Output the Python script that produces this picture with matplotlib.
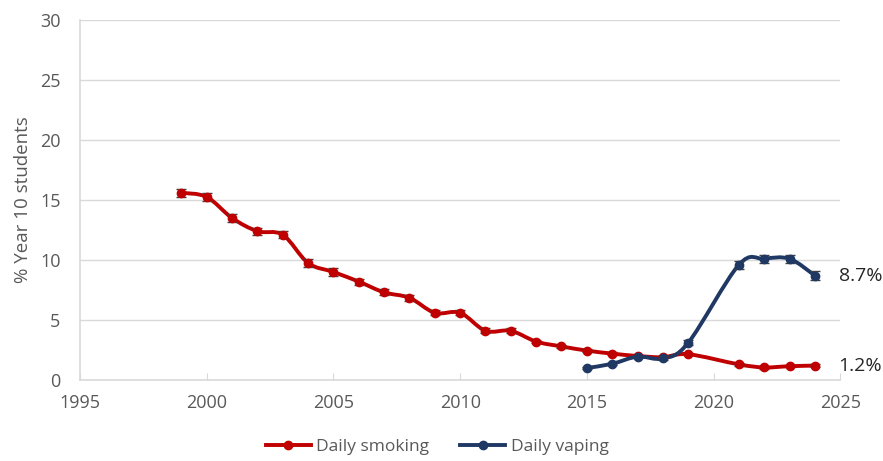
import matplotlib.pyplot as plt
from matplotlib.path import Path
from matplotlib.patches import PathPatch
from matplotlib.lines import Line2D
import numpy as np

plt.rcParams['font.family'] = ['Open Sans', 'DejaVu Sans']

# Data
smoke_years = [1999, 2000, 2001, 2002, 2003, 2004, 2005, 2006, 2007, 2008, 2009, 2010,
               2011, 2012, 2013, 2014, 2015, 2016, 2017, 2018, 2019, 2021, 2022, 2023, 2024]
smoke_vals = [15.6, 15.25, 13.5, 12.4, 12.1, 9.75, 9.0, 8.2, 7.3, 6.85, 5.6, 5.6,
              4.1, 4.1, 3.2, 2.8, 2.45, 2.2, 2.0, 1.9, 2.15, 1.3, 1.05, 1.15, 1.2]
smoke_err = [0.35, 0.35, 0.35, 0.3, 0.3, 0.3, 0.3, 0.25, 0.25, 0.25, 0.2, 0.2,
             0.2, 0.2, 0.15, 0.15, 0.15, 0.1, 0.1, 0.1, 0.1, 0.1, 0.1, 0.1, 0.1]
vape_years = [2015, 2016, 2017, 2018, 2019, 2021, 2022, 2023, 2024]
vape_vals = [1.0, 1.35, 1.95, 1.8, 3.1, 9.6, 10.1, 10.1, 8.7]
vape_err = [0.1, 0.1, 0.15, 0.15, 0.2, 0.35, 0.35, 0.35, 0.4]
end_labels = ['8.7%', '1.2%']

red = '#C00000'
navy = '#1F3864'
grey = '#595959'


def smooth_path(xs, ys, k=6):
    # Excel style smoothed line: Catmull-Rom segments as cubic Bezier curves
    p = np.column_stack([xs, ys]).astype(float)
    verts = [p[0]]
    codes = [Path.MOVETO]
    n = len(p)
    for i in range(n - 1):
        p0 = p[i - 1] if i > 0 else p[i]
        p3 = p[i + 2] if i + 2 < n else p[i + 1]
        c1 = p[i] + (p[i + 1] - p0) / k
        c2 = p[i + 1] - (p3 - p[i]) / k
        verts += [c1, c2, p[i + 1]]
        codes += [Path.CURVE4] * 3
    return Path(verts, codes)


fig = plt.figure(figsize=(8.83, 4.61), dpi=100)
ax = fig.add_axes([0.0906, 0.1757, 0.861, 0.781])

for xs, ys, err, c in [(smoke_years, smoke_vals, smoke_err, red),
                       (vape_years, vape_vals, vape_err, navy)]:
    ax.add_patch(PathPatch(smooth_path(xs, ys), facecolor='none', edgecolor=c,
                           lw=2.8, zorder=3, capstyle='round', joinstyle='round'))
    ax.errorbar(xs, ys, yerr=err, fmt='o', color=c, ms=6, ecolor='#404040',
                elinewidth=1, capsize=3.5, capthick=1, zorder=4)

ax.set_xlim(1995, 2025)
ax.set_ylim(0, 30)
ax.set_xticks(range(1995, 2026, 5))
ax.set_yticks(range(0, 31, 5))
ax.grid(axis='y', color='#D9D9D9', lw=1)
ax.set_axisbelow(True)
for s in ['top', 'right']:
    ax.spines[s].set_visible(False)
for s in ['left', 'bottom']:
    ax.spines[s].set_color('#D9D9D9')
    ax.spines[s].set_linewidth(1.2)
ax.tick_params(axis='x', direction='in', length=5, color='#D9D9D9', colors=grey,
               labelsize=13, pad=10)
ax.tick_params(axis='y', length=0, colors=grey, labelsize=13, pad=14)
ax.set_ylabel('% Year 10 students', color=grey, fontsize=13.5, labelpad=6)

ax.annotate(end_labels[0], xy=(vape_years[-1], vape_vals[-1]), xytext=(17, 0),
            textcoords='offset points', va='center', fontsize=14, color='#262626',
            annotation_clip=False)
ax.annotate(end_labels[1], xy=(smoke_years[-1], smoke_vals[-1]), xytext=(17, 0),
            textcoords='offset points', va='center', fontsize=14, color='#262626',
            annotation_clip=False)

handles = [Line2D([], [], color=red, lw=2.8, marker='o', ms=6),
           Line2D([], [], color=navy, lw=2.8, marker='o', ms=6)]
fig.legend(handles, ['Daily smoking', 'Daily vaping'], loc='center',
           bbox_to_anchor=(0.495, 0.03), ncol=2, frameon=False, fontsize=12.5,
           labelcolor=grey, handlelength=2.6, columnspacing=1.8, handletextpad=0.3,
           borderpad=0)

fig.savefig('out.png', dpi=100)
